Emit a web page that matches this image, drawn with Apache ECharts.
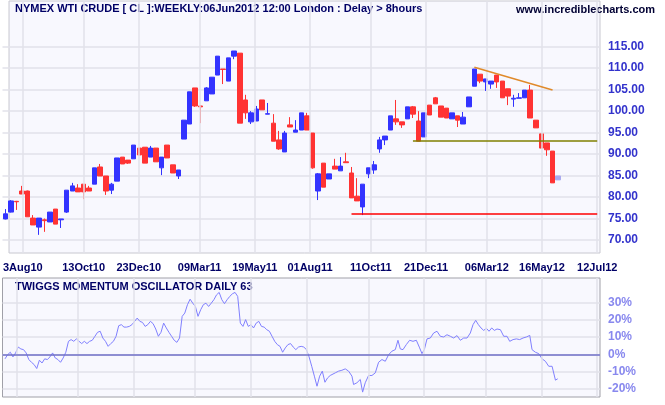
<!DOCTYPE html>
<html>
<head>
<meta charset="utf-8">
<script src="https://cdn.jsdelivr.net/npm/echarts@6/dist/echarts.min.js"></script>
<style>html,body{margin:0;padding:0;background:#fff}#main{width:665px;height:405px}</style>
</head>
<body>
<div id="main"></div>
<script>
// weekly candles
var opens = [74.9,76.5,79.0,81.4,81.4,75.1,73.0,74.7,74.2,77.2,
74.7,76.5,81.4,82.1,83.0,82.1,83.0,87.0,84.9,81.6,
83.7,89.3,88.6,88.9,91.4,91.6,89.3,91.4,86.8,92.1,
87.5,84.9,93.5,97.0,105.4,101.2,102.4,104.0,108.4,109.8,
107.0,112.8,113.5,102.6,97.5,97.7,102.6,99.3,97.2,93.3,
90.5,96.8,95.1,95.6,98.9,94.9,81.4,87.9,84.2,87.2,
86.1,88.2,85.6,80.2,77.7,85.4,86.3,91.2,93.3,95.6,
98.2,97.5,98.2,101.0,97.7,94.0,101.4,103.1,101.2,100.7,
98.2,98.9,97.0,101.0,105.8,108.6,106.8,106.3,108.4,107.0,
105.2,102.8,103.0,103.1,104.9,97.9,94.7,92.6,90.7];
var closes = [76.1,79.1,78.9,80.7,75.4,73.5,75.1,74.5,76.5,73.7,
74.9,81.6,82.6,81.2,81.2,81.4,86.8,84.9,81.4,83.0,
89.1,87.7,87.9,92.1,89.8,87.9,91.4,88.2,89.3,89.1,
85.6,86.3,97.9,104.5,101.2,101.0,105.4,107.9,112.8,109.7,
112.4,114.0,97.2,99.6,99.6,100.5,100.3,99.4,93.0,91.2,
94.9,96.3,95.6,99.6,95.6,86.8,85.4,82.3,85.4,86.5,
87.2,88.0,79.8,79.1,83.0,86.8,87.5,93.3,94.2,98.9,
97.5,96.8,101.0,99.3,93.0,99.6,99.1,101.7,98.6,98.4,
99.6,97.9,98.6,103.3,109.8,107.0,107.5,107.0,106.8,103.1,
103.5,103.0,103.1,104.9,98.4,96.1,91.4,91.0,83.3];
var lows = [74.8,76.4,77.0,80.7,75.4,73.5,71.2,71.9,74.2,73.7,
72.8,76.3,81.4,81.2,79.5,81.4,83.0,84.9,80.5,80.7,
83.7,87.7,87.7,88.9,89.8,87.9,89.3,88.2,85.1,89.1,
85.6,84.2,93.5,97.0,101.0,97.2,102.4,104.0,108.4,106.3,
107.0,112.1,97.2,98.2,97.0,97.7,100.3,99.3,93.0,91.0,
90.5,96.3,95.1,95.6,95.6,86.6,79.3,82.3,84.2,86.5,
86.1,88.0,79.8,79.1,75.8,84.4,85.4,90.3,92.1,95.6,
96.8,96.1,98.2,98.4,93.0,94.0,99.1,101.7,98.6,98.4,
98.2,96.3,97.0,101.0,105.8,106.5,104.7,105.2,105.4,103.1,
101.4,101.0,103.0,103.1,98.4,96.1,91.4,89.6,83.3];
var highs = [77.2,79.3,79.1,82.6,81.5,75.8,75.1,75.0,76.5,77.2,
74.9,81.6,83.3,83.0,83.0,82.6,86.8,87.7,84.9,83.3,
89.1,89.3,88.6,92.1,91.4,91.6,91.9,91.4,89.3,92.1,
87.5,86.3,97.9,104.5,105.4,101.4,105.6,107.9,112.8,109.8,
112.4,114.0,113.5,103.8,100.0,101.2,102.6,101.9,99.3,95.4,
95.4,98.6,97.9,99.6,99.6,94.9,85.6,87.9,85.4,88.9,
89.3,90.3,87.0,84.4,83.0,86.8,88.4,94.0,94.2,98.9,
102.6,97.5,101.0,101.2,100.0,99.6,101.4,103.3,101.2,100.7,
99.6,98.9,99.8,103.3,109.8,108.6,107.5,107.0,108.4,107.0,
105.2,103.8,104.2,104.9,106.1,97.9,94.7,92.6,90.7];
var ghost = [84.0, 84.9, 84.0, 84.9]; // intraweek ghost candle

var weekCount = 107;
var tickIdx = [2, 13, 23, 34, 44, 54, 65, 75, 86, 96, 106];
var tickLabels = ['3Aug10','13Oct10','23Dec10','09Mar11','19May11','01Aug11','11Oct11','21Dec11','06Mar12','16May12','12Jul12'];

// oscillator (percent), first stretch is evenly spaced daily samples
var oscA = [-2.6,-0.2,1.2,-1.5,0.8,4.2,3.1,2.7,0.8,-3.0,
-4.6,-5.9,-8.2,-3.4,-5.0,-2.6,-3.0,-1.5,0.8,-2.1,
-3.0,-4.6,-2.1,1.2,7.5,8.5,7.5,8.9,7.5,6.2,
7.5,6.2,7.5,8.1,10.4,12.7,13.3,9.4,7.5,4.6,
6.2,7.5,10.4,16.5,17.1,15.7,15.7,16.1,17.1,19.0,
20.9,19.0,18.4,16.1,17.1,19.0,17.7,14.6,10.4,12.7,
18.0,15.2,12.7,10.4,8.1,6.9,9.4,21.9,23.8,28.6,
31.8,29.5,27.6,21.9,25.7,28.6,29.5,27.6,29.5,31.5,
34.3,35.7,31.5,29.2,31.5,33.4,34.9,35.7,33.4,18.0,
16.1,20.0,16.1,17.1,15.2,18.0,19.0,16.1,15.7,14.2,
13.3,10.4,7.5,5.6,4.6,1.2,3.7,5.6,6.2,4.2,
2.7,4.2,4.6,4.2,2.7,-1.5,-6.9,-12.6,-18.4,-12.6,
-9.7,-16.1,-13.6,-12.2];
var oscAStart = -0.05, oscAEnd = 58.19;
var oscBWeek = [59.09,59.69,60.28,60.88,61.48,62.08,62.37,62.97,63.57,63.99,64.46,65.06,65.66,66.26,66.85,67.45,68.05,68.65,69.24,69.84,
70.32,70.74,71.22,71.81,72.41,73.01,73.61,74.20,74.62,75.04,75.52,76.11,76.71,77.31,77.91,78.50,79.10,79.70,80.30,80.89,
81.49,82.09,82.69,83.28,83.76,84.24,84.72,85.19,85.67,86.15,86.63,87.11,87.58,88.06,88.66,89.26,89.85,90.33,90.93,91.53,
92.12,92.72,93.32,93.92,94.33,94.93,95.53,96.13,96.72,97.32,97.92,98.52,98.93];
var oscB = [-10.7,-9.7,-9.2,-8.4,-9.7,-12.6,-17.4,-16.4,-14.5,-21.8,-16.4,-12.2,-12.2,-10.7,-4.6,-3.0,-4.0,-0.2,1.8,2.7,
8.1,3.1,2.7,5.6,8.1,7.5,8.1,3.7,0.4,2.7,8.9,9.4,12.3,13.3,10.4,10.0,11.3,10.4,9.4,10.8,
8.1,9.4,9.4,12.3,17.1,19.6,17.1,15.2,13.8,15.0,13.3,15.2,13.8,14.6,14.2,10.4,10.4,7.5,8.5,8.9,
8.5,9.4,10.0,10.9,2.7,1.2,0.4,-2.6,-4.0,-6.9,-6.9,-14.9,-14.1];

var supportLow = 76.0, supportMid = 93.0;
var trendFrom = [84, 110.2], trendTo = [98, 104.9];

var cats = [];
for (var i = 0; i < weekCount; i++) cats.push(String(i));
var candles = opens.map(function (o, i) { return [o, closes[i], lows[i], highs[i]]; });
var ghostData = cats.map(function (c, i) { return i === opens.length ? ghost : '-'; });
var oscData = oscA.map(function (v, k) {
  return [oscAStart + k * (oscAEnd - oscAStart) / (oscA.length - 1), v];
}).concat(oscB.map(function (v, k) { return [oscBWeek[k], v]; }));

var L = 2.5, R = 65;
var gridCol = '#e2e2ea';
function vLines() {
  return { silent: true, symbol: 'none', label: { show: false },
    lineStyle: { color: gridCol, type: 'solid', width: 1.5 },
    data: tickIdx.map(function (t) { return { xAxis: t }; }) };
}

var myChart = echarts.init(document.getElementById('main'));
myChart.setOption({
  animation: false,
  textStyle: { fontFamily: 'Liberation Sans' },
  grid: [
    { left: L, right: R, top: 1, height: 252, show: true, backgroundColor: '#f8f8fe', borderColor: '#c8c8d0' },
    { left: L, right: R, top: 46.7, height: 193.3 },
    { left: L, right: R, top: 278, height: 119, show: true, backgroundColor: '#f8f8fe', borderColor: '#a0a0a8' },
    { left: L, right: R, top: 302.3, height: 86.7 }
  ],
  xAxis: [
    { gridIndex: 0, type: 'category', data: cats, axisLine: { show: false }, axisTick: { show: false }, splitLine: { show: false },
      axisLabel: { interval: function (i) { return tickIdx.indexOf(i) >= 0; }, margin: 9, color: '#000066', fontWeight: 'bold', fontSize: 11,
        formatter: function (v, i) { var k = tickIdx.indexOf(i); return k >= 0 ? tickLabels[k] : ''; } } },
    { gridIndex: 1, type: 'category', data: cats, show: false },
    { gridIndex: 2, type: 'value', min: -0.5, max: weekCount - 0.5, show: false },
    { gridIndex: 3, type: 'value', min: -0.5, max: weekCount - 0.5, show: false }
  ],
  yAxis: [
    { gridIndex: 0, type: 'value', min: 0, max: 1, show: false },
    { gridIndex: 1, type: 'value', position: 'right', min: 70, max: 115, interval: 5, scale: true,
      axisLine: { show: false }, axisTick: { show: false },
      splitLine: { lineStyle: { color: gridCol, width: 1.5 } },
      axisLabel: { margin: 8, color: '#3333cc', fontWeight: 'bold', fontSize: 12, formatter: function (v) { return v.toFixed(2); } } },
    { gridIndex: 2, type: 'value', min: 0, max: 1, show: false },
    { gridIndex: 3, type: 'value', position: 'right', min: -20, max: 30, interval: 10,
      axisLine: { show: false }, axisTick: { show: false },
      splitLine: { lineStyle: { color: gridCol, width: 1.5 } },
      axisLabel: { margin: 8, color: '#8888ee', fontWeight: 'bold', fontSize: 12, formatter: '{value}%' } }
  ],
  graphic: [
    { type: 'text', left: 15, top: 3, style: { text: 'NYMEX WTI CRUDE [ CL ]:WEEKLY:06Jun2012 12:00 London : Delay > 8hours', font: 'bold 11px Liberation Sans', fill: '#000066' } },
    { type: 'text', right: 10, top: 4, style: { text: 'www.incrediblecharts.com', font: 'bold 11px Liberation Sans', fill: '#000033' } },
    { type: 'text', left: 15, top: 281, style: { text: 'TWIGGS MOMENTUM OSCILLATOR DAILY 63', font: 'bold 11px Liberation Sans', fill: '#000066' } }
  ],
  series: [
    { type: 'line', xAxisIndex: 0, yAxisIndex: 0, data: cats.map(function () { return -1; }), showSymbol: false,
      lineStyle: { width: 0 }, markLine: vLines() },
    { type: 'line', xAxisIndex: 2, yAxisIndex: 2, data: [[0, -1], [1, -1]], showSymbol: false,
      lineStyle: { width: 0 }, markLine: vLines() },
    { type: 'candlestick', xAxisIndex: 1, yAxisIndex: 1, data: candles, barWidth: 5, clip: false,
      itemStyle: { color: '#3333ff', color0: '#ff3333', borderColor: '#3333ff', borderColor0: '#ff3333', borderWidth: 1 },
      markLine: { silent: true, symbol: 'none', label: { show: false },
        data: [
          [{ coord: [62, supportLow], lineStyle: { color: '#ff0000', width: 1.5, type: 'solid' } }, { coord: [weekCount - 1, supportLow] }],
          [{ coord: [73, supportMid], lineStyle: { color: '#808000', width: 1.5, type: 'solid' } }, { coord: [weekCount - 1, supportMid] }],
          [{ coord: trendFrom, lineStyle: { color: '#e08a2a', width: 1.5, type: 'solid' } }, { coord: trendTo }]
        ] } },
    { type: 'candlestick', xAxisIndex: 1, yAxisIndex: 1, data: ghostData, barWidth: 5,
      itemStyle: { color: '#aaaaee', color0: '#aaaaee', borderColor: '#aaaaee', borderColor0: '#aaaaee' } },
    { type: 'line', xAxisIndex: 3, yAxisIndex: 3, data: oscData, showSymbol: false, clip: false,
      lineStyle: { color: '#8080ff', width: 1 },
      markLine: { silent: true, symbol: 'none', label: { show: false }, lineStyle: { color: '#7070c8', width: 1.5, type: 'solid' },
        data: [{ yAxis: 0 }] } }
  ]
});
</script>
</body>
</html>
